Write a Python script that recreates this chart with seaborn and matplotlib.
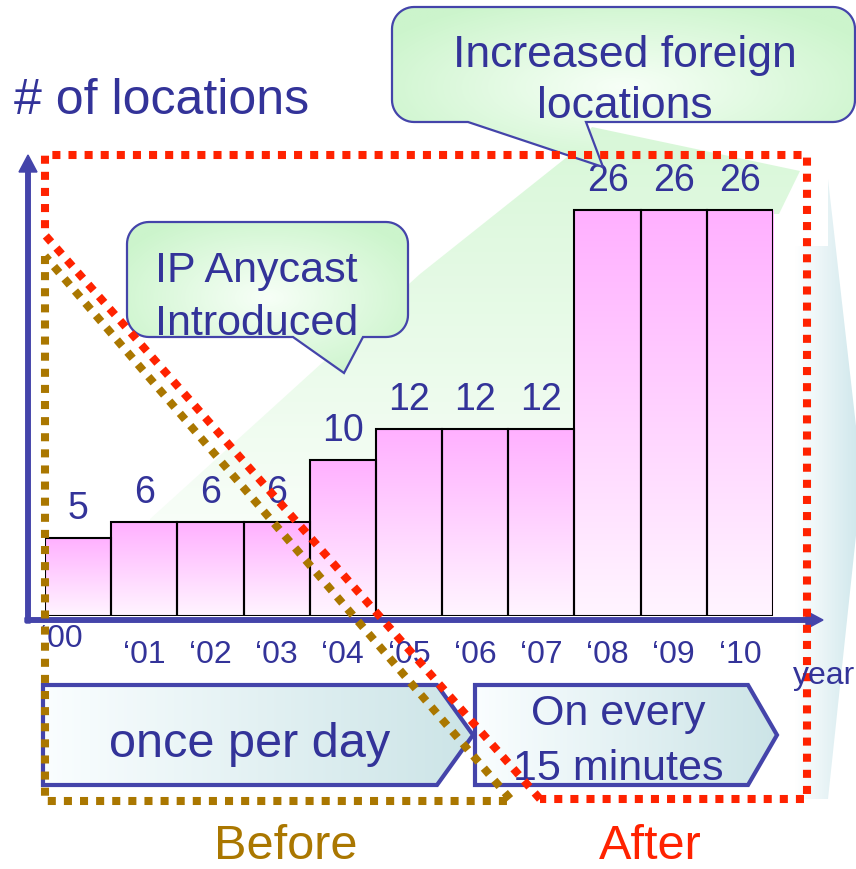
import numpy as np
import pandas as pd
import matplotlib
matplotlib.use("Agg")
import matplotlib.pyplot as plt
import seaborn as sns
from matplotlib.patches import Polygon, FancyArrow
from matplotlib.transforms import ScaledTranslation

# ---------------- data ----------------
years = ["\u201800", "\u201801", "\u201802", "\u201803", "\u201804", "\u201805",
         "\u201806", "\u201807", "\u201808", "\u201809", "\u201810"]
locations = [5, 6, 6, 6, 10, 12, 12, 12, 26, 26, 26]
y_title = "# of locations"
x_title = "year"
anycast_note = ["IP Anycast", "Introduced"]
foreign_note = ["Increased foreign", "locations"]
before_box = ["once per day"]
after_box = ["On every", "15 minutes"]
period_labels = ["Before", "After"]

# ---------------- style ----------------
sns.set_theme(style="white")
plt.rcParams['font.family'] = ['Liberation Sans', 'DejaVu Sans']

NAVY = '#333399'
BLUE = '#4444AA'
RED = '#FF2200'
BROWN = '#AA7700'

W, H = 856, 870
fig = plt.figure(figsize=(W / 100, H / 100), dpi=100)
fig.patch.set_facecolor('white')


def px_axes(z):
    a = fig.add_axes([0, 0, 1, 1], zorder=z)
    a.set_xlim(0, W)
    a.set_ylim(H, 0)
    a.axis('off')
    a.patch.set_alpha(0)
    return a


bg = px_axes(0)
ax = fig.add_axes([45 / W, (H - 617) / H, 728 / W, (617 - 180) / H], zorder=1)
ax.patch.set_alpha(0)
fg = px_axes(2)


def gradient(axis, patch, extent, c0, c1, mode='h', a0=1.0, a1=1.0, z=0.5, n=128):
    c0 = np.array(c0, float)
    c1 = np.array(c1, float)
    if mode == 'h':
        t = np.tile(np.linspace(0, 1, n), (n, 1))
    elif mode == 'v':
        t = np.tile(np.linspace(0, 1, n)[:, None], (1, n))
    else:
        g = np.linspace(-1, 1, n)
        X, Y = np.meshgrid(g, g)
        t = np.clip(np.sqrt(X ** 2 + Y ** 2) / 1.2, 0, 1)
    arr = np.zeros((n, n, 4))
    for k in range(3):
        arr[..., k] = c0[k] * (1 - t) + c1[k] * t
    arr[..., 3] = a0 * (1 - t) + a1 * t
    im = axis.imshow(arr, extent=extent, origin='upper', aspect='auto',
                     interpolation='bilinear', zorder=z)
    im.set_clip_path(patch)
    return im


# ---------------- background decorations ----------------
green_wedge = Polygon([(150, 520), (420, 275), (567, 158), (592, 128), (800, 172),
                       (779, 215), (575, 215), (575, 617), (150, 617)],
                      closed=True, facecolor='none', edgecolor='none')
bg.add_patch(green_wedge)
gradient(bg, green_wedge, (150, 800, 617, 128), (0.84, 0.97, 0.84), (0.84, 0.97, 0.84),
         mode='v', a0=0.95, a1=0.0)

teal = Polygon([(795, 247), (828, 247), (828, 180), (862, 480), (828, 800), (795, 800)],
               closed=True, facecolor='none', edgecolor='none')
bg.add_patch(teal)
gradient(bg, teal, (795, 862, 800, 180), (1, 1, 1), (0.80, 0.90, 0.92), mode='h')

# ---------------- bars ----------------
df = pd.DataFrame({"year": years, "locations": locations})
sns.barplot(data=df, x="year", y="locations", color='#FFB0FF', width=1.0,
            edgecolor='black', linewidth=1.5, errorbar=None, ax=ax)
for p in list(ax.patches):
    x0, w, h = p.get_x(), p.get_width(), p.get_height()
    p.set_facecolor('none')
    p.set_zorder(2)
    gradient(ax, p, (x0, x0 + w, 0, h), (1.0, 0.69, 1.0), (1.0, 0.96, 1.0), mode='v', z=1)

ax.bar_label(ax.containers[0], padding=8.6, fontsize=27, color=NAVY)
ax.set_xlim(-0.5, 10.5)
ax.set_ylim(0, 28)
ax.set_yticks([])
ax.set_xlabel('')
ax.set_ylabel('')
sns.despine(ax=ax, left=True, bottom=True)
ax.set_xticks(range(len(years)))
ax.set_xticklabels(years, fontsize=23, color=NAVY)
ax.tick_params(axis='x', length=0, pad=16.6)
first = ax.get_xticklabels()[0]
first.set_transform(first.get_transform() +
                    ScaledTranslation(-16.5 / 100, 16 / 100, fig.dpi_scale_trans))

# ---------------- foreground ----------------
# axis arrows
fg.add_patch(FancyArrow(28, 624, 0, -468, width=4.5, head_width=18, head_length=17,
                        length_includes_head=True, color=BLUE, zorder=3))
fg.add_patch(FancyArrow(25, 621, 798, 0, width=4.5, head_width=18, head_length=17,
                        length_includes_head=True, color=BLUE, zorder=3))

# pentagon arrow boxes
pent1 = Polygon([(43, 686), (437, 686), (473, 736), (437, 786), (43, 786)], closed=True,
                facecolor='none', edgecolor=BLUE, lw=3, joinstyle='miter', zorder=4)
pent2 = Polygon([(475, 686), (748, 686), (777, 736), (748, 786), (475, 786)], closed=True,
                facecolor='none', edgecolor=BLUE, lw=3, joinstyle='miter', zorder=4)
for pg in (pent1, pent2):
    fg.add_patch(pg)
    xs = [v[0] for v in pg.get_xy()]
    gradient(fg, pg, (min(xs), max(xs), 786, 686), (0.98, 0.995, 1.0), (0.80, 0.895, 0.905),
             mode='h', z=3.5)


def callout(x0, y0, x1, y1, r, tb_l, tip, tb_r):
    pts = []

    def arc(cx, cy, a0, a1):
        for a in np.linspace(a0, a1, 14):
            pts.append((cx + r * np.cos(a), cy + r * np.sin(a)))

    arc(x0 + r, y0 + r, np.pi, 1.5 * np.pi)
    arc(x1 - r, y0 + r, 1.5 * np.pi, 2 * np.pi)
    arc(x1 - r, y1 - r, 0, 0.5 * np.pi)
    pts += [(tb_r, y1), tip, (tb_l, y1)]
    arc(x0 + r, y1 - r, 0.5 * np.pi, np.pi)
    poly = Polygon(pts, closed=True, facecolor='none', edgecolor=BLUE, lw=1.6, zorder=4)
    fg.add_patch(poly)
    gradient(fg, poly, (x0, x1, max(y1, tip[1]), y0), (0.97, 1.0, 0.97), (0.80, 0.96, 0.80),
             mode='r', z=3.5)


callout(392, 8, 855, 123, 22, 468, (603, 168), 586)
callout(127, 223, 408, 338, 22, 293, (344, 374), 363)

# dotted outlines
fg.plot([540, 45, 45, 807, 807, 540], [800, 236, 156, 156, 800, 800], color=RED, lw=5.8,
        linestyle=(0, (1, 1)), dash_capstyle='butt', zorder=6)
fg.plot([45, 45, 512, 45], [257, 802, 802, 257], color=BROWN, lw=5.8,
        linestyle=(0, (1, 1)), dash_capstyle='butt', zorder=6)

# texts
fg.text(14, 114, y_title, fontsize=36, color=NAVY, va='baseline', ha='left', zorder=7)
fg.text(793, 684, x_title, fontsize=23, color=NAVY, va='baseline', ha='left', zorder=7)
fg.text(625, 67, foreign_note[0], fontsize=32, color=NAVY, va='baseline', ha='center', zorder=7)
fg.text(625, 118, foreign_note[1], fontsize=32, color=NAVY, va='baseline', ha='center', zorder=7)
fg.text(155, 282, anycast_note[0], fontsize=31, color=NAVY, va='baseline', ha='left', zorder=7)
fg.text(155, 335, anycast_note[1], fontsize=31, color=NAVY, va='baseline', ha='left', zorder=7)
fg.text(250, 757, before_box[0], fontsize=35, color=NAVY, va='baseline', ha='center', zorder=5)
fg.text(618, 725, after_box[0], fontsize=31, color=NAVY, va='baseline', ha='center', zorder=5)
fg.text(618, 780, after_box[1], fontsize=31, color=NAVY, va='baseline', ha='center', zorder=5)
fg.text(286, 859, period_labels[0], fontsize=35, color=BROWN, va='baseline', ha='center', zorder=7)
fg.text(650, 859, period_labels[1], fontsize=35, color=RED, va='baseline', ha='center', zorder=7)

for a in (bg, fg):
    a.set_xlim(0, W)
    a.set_ylim(H, 0)

fig.savefig("out.png", dpi=100, facecolor='white')
